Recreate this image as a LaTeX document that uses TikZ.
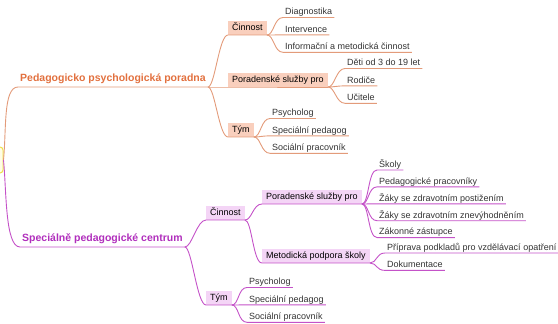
\documentclass[tikz,border=0pt]{standalone}
\usepackage{fontspec}
\setmainfont{Liberation Sans}
\usepackage{xcolor}
\usetikzlibrary{positioning}

\definecolor{ppline}{HTML}{E39B7A}
\definecolor{pptext}{HTML}{E2703E}
\definecolor{ppfill}{HTML}{F9CFBD}
\definecolor{spcline}{HTML}{C452C8}
\definecolor{spctext}{HTML}{B02EBC}
\definecolor{spcfill}{HTML}{F4D5F6}
\definecolor{leafgray}{HTML}{333333}
\definecolor{rootline}{HTML}{EFE04A}
\definecolor{rootfill}{HTML}{FFFDE6}

\begin{document}
\begin{tikzpicture}[
  x=1pt, y=-1pt,
  leaf/.style={anchor=south west, font=\fontsize{9}{10}\selectfont, text=leafgray, inner xsep=2pt, inner ysep=0.5pt, text height=7pt, text depth=2pt},
  topic/.style={anchor=south west, font=\bfseries\fontsize{10.5}{12}\selectfont, inner xsep=2pt, inner ysep=0.5pt, text height=8pt, text depth=4.5pt},
  box/.style={anchor=south west, font=\fontsize{9}{10}\selectfont, text=black, inner xsep=4pt, inner ysep=1pt, text height=9pt, text depth=3pt},
  rootbox/.style={draw=rootline, fill=rootfill, line width=1pt, rounded corners=3pt, minimum width=46pt, minimum height=26pt},
  ppedge/.style={draw=ppline, line width=0.9pt},
  spcedge/.style={draw=spcline, line width=0.9pt}
]
\useasboundingbox (0,0) rectangle (558,324);

% Root
\node[rootbox] (root) at (-20,160) {};

% Pedagogicko psychologicka poradna
\node[topic, text=pptext] (ppp) at (18,87) {Pedagogicko psychologická poradna};
\node[box, fill=ppfill] (ppcin) at (228,35) {Činnost};
\node[box, fill=ppfill] (ppsluzby) at (228,87) {Poradenské služby pro};
\node[box, fill=ppfill] (pptym) at (228,137) {Tým};

\node[leaf] (diag) at (283,17.5) {Diagnostika};
\node[leaf, below=7pt of diag.south west, anchor=north west] (interv) {Intervence};
\node[leaf, below=7pt of interv.south west, anchor=north west] (inform) {Informační a metodická činnost};

\node[leaf] (deti) at (345,68.5) {Děti od 3 do 19 let};
\node[leaf, below=7pt of deti.south west, anchor=north west] (rodice) {Rodiče};
\node[leaf, below=7pt of rodice.south west, anchor=north west] (ucitele) {Učitele};

\node[leaf] (pppsych) at (270,118.5) {Psycholog};
\node[leaf, below=7pt of pppsych.south west, anchor=north west] (ppspec) {Speciální pedagog};
\node[leaf, below=7pt of ppspec.south west, anchor=north west] (ppsoc) {Sociální pracovník};

% Specialne pedagogicke centrum
\node[topic, text=spctext] (spc) at (20,247) {Speciálně pedagogické centrum};
\node[box, fill=spcfill] (spccin) at (206,220) {Činnost};
\node[box, fill=spcfill] (spctym) at (206,305) {Tým};
\node[box, fill=spcfill] (spcsluzby) at (262,204) {Poradenské služby pro};
\node[box, fill=spcfill] (spcmetod) at (262,263) {Metodická podpora školy};

\node[leaf] (skoly) at (377,170) {Školy};
\node[leaf, below=6.5pt of skoly.south west, anchor=north west] (pedprac) {Pedagogické pracovníky};
\node[leaf, below=6.5pt of pedprac.south west, anchor=north west] (zakpost) {Žáky se zdravotním postižením};
\node[leaf, below=6.5pt of zakpost.south west, anchor=north west] (zakznev) {Žáky se zdravotním znevýhodněním};
\node[leaf, below=6.5pt of zakznev.south west, anchor=north west] (zakonne) {Zákonné zástupce};

\node[leaf] (priprava) at (385,253) {Příprava podkladů pro vzdělávací opatření};
\node[leaf, below=7pt of priprava.south west, anchor=north west] (dokum) {Dokumentace};

\node[leaf] (spcpsych) at (247,287.5) {Psycholog};
\node[leaf, below=7pt of spcpsych.south west, anchor=north west] (spcspec) {Speciální pedagog};
\node[leaf, below=7pt of spcspec.south west, anchor=north west] (spcsoc) {Sociální pracovník};

% orange branches
\draw[ppedge] (root.east) .. controls +(3,-30) and +(-15,0) .. (ppp.south west) -- (ppp.south east);
\draw[ppedge] (ppp.south east) .. controls +(7,0) and +(-9,0) .. (ppcin.south west) -- (ppcin.south east);
\draw[ppedge] (ppp.south east) -- (ppsluzby.south west) -- (ppsluzby.south east);
\draw[ppedge] (ppp.south east) .. controls +(7,0) and +(-9,0) .. (pptym.south west) -- (pptym.south east);
\draw[ppedge] (ppcin.south east) .. controls +(7,0) and +(-9,0) .. (diag.south west) -- (diag.south east);
\draw[ppedge] (ppcin.south east) -- (interv.south west) -- (interv.south east);
\draw[ppedge] (ppcin.south east) .. controls +(7,0) and +(-9,0) .. (inform.south west) -- (inform.south east);
\draw[ppedge] (ppsluzby.south east) .. controls +(7,0) and +(-9,0) .. (deti.south west) -- (deti.south east);
\draw[ppedge] (ppsluzby.south east) .. controls +(7,0) and +(-9,0) .. (rodice.south west) -- (rodice.south east);
\draw[ppedge] (ppsluzby.south east) .. controls +(7,0) and +(-9,0) .. (ucitele.south west) -- (ucitele.south east);
\draw[ppedge] (pptym.south east) .. controls +(7,0) and +(-9,0) .. (pppsych.south west) -- (pppsych.south east);
\draw[ppedge] (pptym.south east) .. controls +(7,0) and +(-9,0) .. (ppspec.south west) -- (ppspec.south east);
\draw[ppedge] (pptym.south east) .. controls +(7,0) and +(-9,0) .. (ppsoc.south west) -- (ppsoc.south east);

% magenta branches
\draw[spcedge] (root.east) .. controls +(3,30) and +(-15,0) .. (spc.south west) -- (spc.south east);
\draw[spcedge] (spc.south east) .. controls +(7,0) and +(-9,0) .. (spccin.south west) -- (spccin.south east);
\draw[spcedge] (spc.south east) .. controls +(7,0) and +(-9,0) .. (spctym.south west) -- (spctym.south east);
\draw[spcedge] (spccin.south east) .. controls +(7,0) and +(-9,0) .. (spcsluzby.south west) -- (spcsluzby.south east);
\draw[spcedge] (spccin.south east) .. controls +(7,0) and +(-9,0) .. (spcmetod.south west) -- (spcmetod.south east);
\draw[spcedge] (spcsluzby.south east) .. controls +(7,0) and +(-9,0) .. (skoly.south west) -- (skoly.south east);
\draw[spcedge] (spcsluzby.south east) .. controls +(7,0) and +(-9,0) .. (pedprac.south west) -- (pedprac.south east);
\draw[spcedge] (spcsluzby.south east) .. controls +(7,0) and +(-9,0) .. (zakpost.south west) -- (zakpost.south east);
\draw[spcedge] (spcsluzby.south east) .. controls +(7,0) and +(-9,0) .. (zakznev.south west) -- (zakznev.south east);
\draw[spcedge] (spcsluzby.south east) .. controls +(7,0) and +(-9,0) .. (zakonne.south west) -- (zakonne.south east);
\draw[spcedge] (spcmetod.south east) .. controls +(7,0) and +(-9,0) .. (priprava.south west) -- (priprava.south east);
\draw[spcedge] (spcmetod.south east) .. controls +(7,0) and +(-9,0) .. (dokum.south west) -- (dokum.south east);
\draw[spcedge] (spctym.south east) .. controls +(7,0) and +(-9,0) .. (spcpsych.south west) -- (spcpsych.south east);
\draw[spcedge] (spctym.south east) .. controls +(7,0) and +(-9,0) .. (spcspec.south west) -- (spcspec.south east);
\draw[spcedge] (spctym.south east) .. controls +(7,0) and +(-9,0) .. (spcsoc.south west) -- (spcsoc.south east);
\end{tikzpicture}
\end{document}
